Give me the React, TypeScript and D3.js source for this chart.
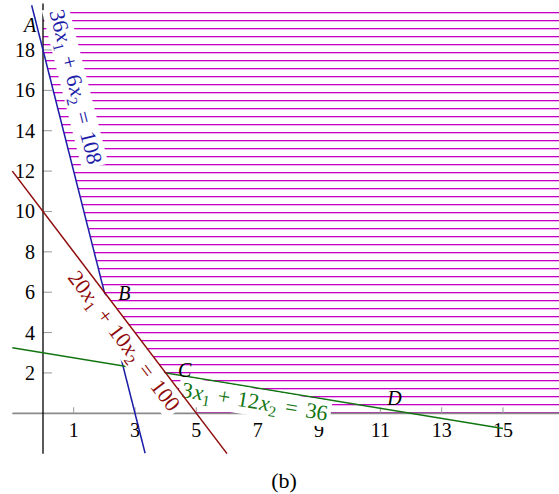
import React, { useEffect, useRef } from 'react';
import * as d3 from 'd3';

// constraints a*x1 + b*x2 = c
const coefA = [36, 20, 3];
const coefB = [6, 10, 12];
const rhs = [108, 100, 36];
const lineColors = ['#1c1ca8', '#8e0a0a', '#127512'];
// x1 range over which each line is drawn
const lineFrom = [-0.37, -1, -1];
const lineTo = [3.33, 6, 15];
// where each equation label sits along its line (x1)
const labelAt = [0.35, 3.0, 6.98];

const pointNames = ['A', 'B', 'C', 'D'];
const pointX1 = [0, 2, 4, 12];
const pointX2 = [18, 6, 2, 0];

// hatched region (x1, x2)
const hatchX1 = [0, 0, 2, 5, 17, 17];
const hatchX2 = [20.2, 18, 6, 0, 0, 20.2];

const xTicks = [1, 3, 5, 7, 9, 11, 13, 15];
const yTicks = [2, 4, 6, 8, 10, 12, 14, 16, 18];
const caption = '(b)';

const W = 559;
const H = 494;
const FONT = "'Liberation Serif', 'Times New Roman', Tinos, 'DejaVu Serif', serif";

const App = () => {
  const svgRef = useRef<SVGSVGElement>(null);

  useEffect(() => {
    const svg = d3.select(svgRef.current);
    svg.selectAll('*').remove();

    const x = d3.scaleLinear().domain([0, 15]).range([43, 503]);
    const y = d3.scaleLinear().domain([0, 18]).range([413.3, 50]);

    // hatched region: horizontal lines clipped to the polygon
    const hatchPts = hatchX1.map((v, i) => [x(v), y(hatchX2[i])] as [number, number]);
    svg.append('defs').append('clipPath')
      .attr('id', 'hatchClip')
      .append('path')
      .attr('d', d3.line()(hatchPts) + 'Z');
    const step = 7.99;
    const rows = d3.range(0, 51).map(k => Math.round(12 + k * step));
    svg.append('g')
      .attr('clip-path', 'url(#hatchClip)')
      .selectAll('rect')
      .data(rows)
      .join('rect')
      .attr('x', 0)
      .attr('y', d => d)
      .attr('width', W)
      .attr('height', 1.3)
      .attr('fill', '#c400c4');

    // x axis
    svg.append('line')
      .attr('x1', x(-1)).attr('x2', x(17))
      .attr('y1', y(0)).attr('y2', y(0))
      .attr('stroke', '#8a8a8a').attr('stroke-width', 1.8);
    svg.selectAll('line.xt')
      .data(xTicks)
      .join('line')
      .attr('class', 'xt')
      .attr('x1', d => x(d)).attr('x2', d => x(d))
      .attr('y1', y(0)).attr('y2', y(0) - 6)
      .attr('stroke', '#999').attr('stroke-width', 1);
    svg.selectAll('line.yt')
      .data(yTicks)
      .join('line')
      .attr('class', 'yt')
      .attr('x1', x(0)).attr('x2', x(0) + 9)
      .attr('y1', d => y(d)).attr('y2', d => y(d))
      .attr('stroke', '#999').attr('stroke-width', 1);

    // y axis
    svg.append('line')
      .attr('x1', x(0)).attr('x2', x(0))
      .attr('y1', y(-2)).attr('y2', y(20.3))
      .attr('stroke', '#000').attr('stroke-width', 1.3);

    // tick labels
    svg.selectAll('text.xl')
      .data(xTicks)
      .join('text')
      .attr('class', 'xl')
      .attr('x', d => x(d))
      .attr('y', y(0) + 24)
      .attr('text-anchor', 'middle')
      .attr('font-family', FONT)
      .attr('font-size', 20)
      .text(d => d);
    svg.selectAll('text.yl')
      .data(yTicks)
      .join('text')
      .attr('class', 'yl')
      .attr('x', 35)
      .attr('y', d => y(d) + 7)
      .attr('text-anchor', 'end')
      .attr('font-family', FONT)
      .attr('font-size', 20)
      .text(d => d);

    const drawLine = (i: number) => {
      const f = (v: number) => (rhs[i] - coefA[i] * v) / coefB[i];
      svg.append('line')
        .attr('x1', x(lineFrom[i])).attr('y1', y(f(lineFrom[i])))
        .attr('x2', x(lineTo[i])).attr('y2', y(f(lineTo[i])))
        .attr('stroke', lineColors[i])
        .attr('stroke-width', 1.5);
    };

    drawLine(0);
    drawLine(2);

    // equation labels with white boxes (red one last so it sits on top)
    const side = [-22, 14.5, 14.5];
    [2, 0, 1].forEach(i => {
      const x1 = labelAt[i];
      const x2 = (rhs[i] - coefA[i] * x1) / coefB[i];
      const dx = x(1) - x(0);
      const dy = y(-coefA[i] / coefB[i]) - y(0);
      const ang = Math.atan2(dy, dx) * 180 / Math.PI;
      const g = svg.append('g')
        .attr('transform', `translate(${x(x1)},${y(x2)}) rotate(${ang}) translate(0,${side[i]})`);
      const box = g.append('rect').attr('fill', '#fff');
      const t = g.append('text')
        .attr('x', 0).attr('y', 6.5)
        .attr('text-anchor', 'middle')
        .attr('fill', lineColors[i])
        .attr('font-family', FONT)
        .attr('font-size', 22);
      const parts = [
        { s: String(coefA[i]) },
        { s: 'x', it: true, dx: 0.8 },
        { s: '1', sub: true },
        { s: '+', op: 7.2 },
        { s: String(coefB[i]), after: 7.2 },
        { s: 'x', it: true, dx: 0.8 },
        { s: '2', sub: true },
        { s: '=', op: 8.4 },
        { s: String(rhs[i]), after: 8.4 },
      ];
      let prevSub = false;
      parts.forEach((p: any) => {
        const ts = t.append('tspan').text(p.s);
        let ddx = 0;
        if (p.op) ddx += p.op;
        if (p.after) ddx += p.after;
        if (p.dx) ddx += p.dx;
        if (ddx) ts.attr('dx', ddx);
        if (p.it) ts.attr('font-style', 'italic');
        if (p.sub) {
          ts.attr('dy', 5).attr('font-size', 15.4);
          prevSub = true;
        } else if (prevSub) {
          ts.attr('dy', -5);
          prevSub = false;
        }
      });
      const bb = (t.node() as SVGTextElement).getBBox();
      box.attr('x', bb.x - 3).attr('width', bb.width + 6)
        .attr('y', -13.5).attr('height', 27);
    });

    drawLine(1);

    // point labels
    const off = [[-13, -18], [20, 8], [19, 4], [-16.5, -8]];
    svg.selectAll('text.pt')
      .data(pointNames)
      .join('text')
      .attr('class', 'pt')
      .attr('x', (d, i) => x(pointX1[i]) + off[i][0])
      .attr('y', (d, i) => y(pointX2[i]) + off[i][1])
      .attr('text-anchor', 'middle')
      .attr('font-family', FONT)
      .attr('font-size', 20)
      .attr('font-style', 'italic')
      .text(d => d);

    svg.append('text')
      .attr('x', 284)
      .attr('y', 488)
      .attr('text-anchor', 'middle')
      .attr('font-family', FONT)
      .attr('font-size', 22)
      .text(caption);
  }, []);

  return (
    <div style={{ position: 'absolute', left: 0, top: 0 }}>
      <svg ref={svgRef} width={W} height={H} style={{ display: 'block', background: '#fff' }} />
    </div>
  );
};

export default App;
